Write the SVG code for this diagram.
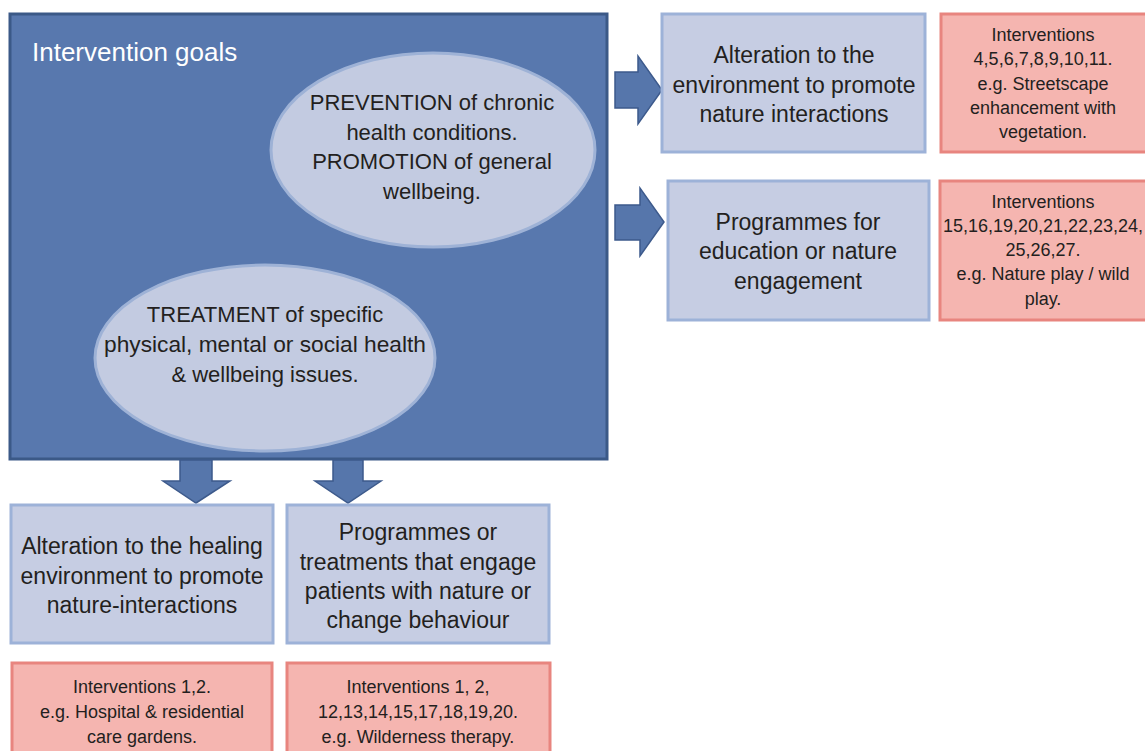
<svg xmlns="http://www.w3.org/2000/svg" width="1145" height="751" viewBox="0 0 1145 751">
<style>
text{font-family:"Liberation Sans",Arial,sans-serif;fill:#231f20;text-anchor:middle}
.main{fill:#5878ae;stroke:#3b5987;stroke-width:3}
.ell{fill:#c3cbe1;stroke:#9eb2d6;stroke-width:3}
.blue{fill:#c6cde3;stroke:#9db2d8;stroke-width:3}
.pink{fill:#f5b5b0;stroke:#e8857f;stroke-width:3}
.arr{fill:#5676ab;stroke:#3d5a8c;stroke-width:1.5}
.t22{font-size:22px}
.t23{font-size:23px}
.t18{font-size:18px}
</style>
<rect width="1145" height="751" fill="#ffffff"/>
<g id="goals">
<rect class="main" x="10" y="14" width="597" height="445"/>
<text x="32" y="61" style="fill:#ffffff;font-size:26px;text-anchor:start">Intervention goals</text>
</g>
<g id="prevention">
<ellipse class="ell" cx="433" cy="150" rx="162" ry="97"/>
<text class="t22" x="432" y="110">PREVENTION of chronic</text>
<text class="t22" x="432" y="140">health conditions.</text>
<text class="t22" x="432" y="169">PROMOTION of general</text>
<text class="t22" x="432" y="199">wellbeing.</text>
</g>
<g id="treatment">
<ellipse class="ell" cx="265" cy="358" rx="170" ry="93"/>
<text class="t22" x="265" y="322">TREATMENT of specific</text>
<text class="t22" x="265" y="352" textLength="322" lengthAdjust="spacingAndGlyphs">physical, mental or social health</text>
<text class="t22" x="265" y="382">&amp; wellbeing issues.</text>
</g>
<g id="connectors">
<path class="arr" d="M615,72 H638 V56 L662,90 L638,124 V108 H615 Z"/>
<path class="arr" d="M615,205 H640 V188 L664,222 L640,256 V240 H615 Z"/>
<path class="arr" d="M180,460 V481 H163 L196,503 L230,481 H212 V460 Z"/>
<path class="arr" d="M333,460 V481 H315 L348,503 L381,481 H363 V460 Z"/>
</g>
<g id="env-alteration">
<rect class="blue" x="662" y="14" width="263" height="138"/>
<text class="t23" x="794" y="63">Alteration to the</text>
<text class="t23" x="794" y="93">environment to promote</text>
<text class="t23" x="794" y="122">nature interactions</text>
</g>
<g id="env-interventions">
<rect class="pink" x="941" y="14" width="210" height="138"/>
<text class="t18" x="1043" y="41">Interventions</text>
<text class="t18" x="1043" y="65">4,5,6,7,8,9,10,11.</text>
<text class="t18" x="1043" y="90">e.g. Streetscape</text>
<text class="t18" x="1043" y="114">enhancement with</text>
<text class="t18" x="1043" y="138">vegetation.</text>
</g>
<g id="education">
<rect class="blue" x="668" y="181" width="261" height="139"/>
<text class="t23" x="798" y="230">Programmes for</text>
<text class="t23" x="798" y="259">education or nature</text>
<text class="t23" x="798" y="289">engagement</text>
</g>
<g id="education-interventions">
<rect class="pink" x="940" y="181" width="210" height="139"/>
<text class="t18" x="1043" y="208">Interventions</text>
<text class="t18" x="1043" y="232">15,16,19,20,21,22,23,24,</text>
<text class="t18" x="1043" y="256">25,26,27.</text>
<text class="t18" x="1043" y="280">e.g. Nature play / wild</text>
<text class="t18" x="1043" y="305">play.</text>
</g>
<g id="healing-env">
<rect class="blue" x="11" y="505" width="262" height="138"/>
<text class="t23" x="142" y="554">Alteration to the healing</text>
<text class="t23" x="142" y="584">environment to promote</text>
<text class="t23" x="142" y="613">nature-interactions</text>
</g>
<g id="treatment-programmes">
<rect class="blue" x="287" y="505" width="262" height="138"/>
<text class="t23" x="418" y="540">Programmes or</text>
<text class="t23" x="418" y="570">treatments that engage</text>
<text class="t23" x="418" y="599">patients with nature or</text>
<text class="t23" x="418" y="628">change behaviour</text>
</g>
<g id="healing-interventions">
<rect class="pink" x="12" y="663" width="260" height="100"/>
<text class="t18" x="142" y="693">Interventions 1,2.</text>
<text class="t18" x="142" y="718">e.g. Hospital &amp; residential</text>
<text class="t18" x="142" y="743">care gardens.</text>
</g>
<g id="treatment-interventions">
<rect class="pink" x="287" y="663" width="263" height="100"/>
<text class="t18" x="418" y="693">Interventions 1, 2,</text>
<text class="t18" x="418" y="718">12,13,14,15,17,18,19,20.</text>
<text class="t18" x="418" y="743">e.g. Wilderness therapy.</text>
</g>
</svg>
